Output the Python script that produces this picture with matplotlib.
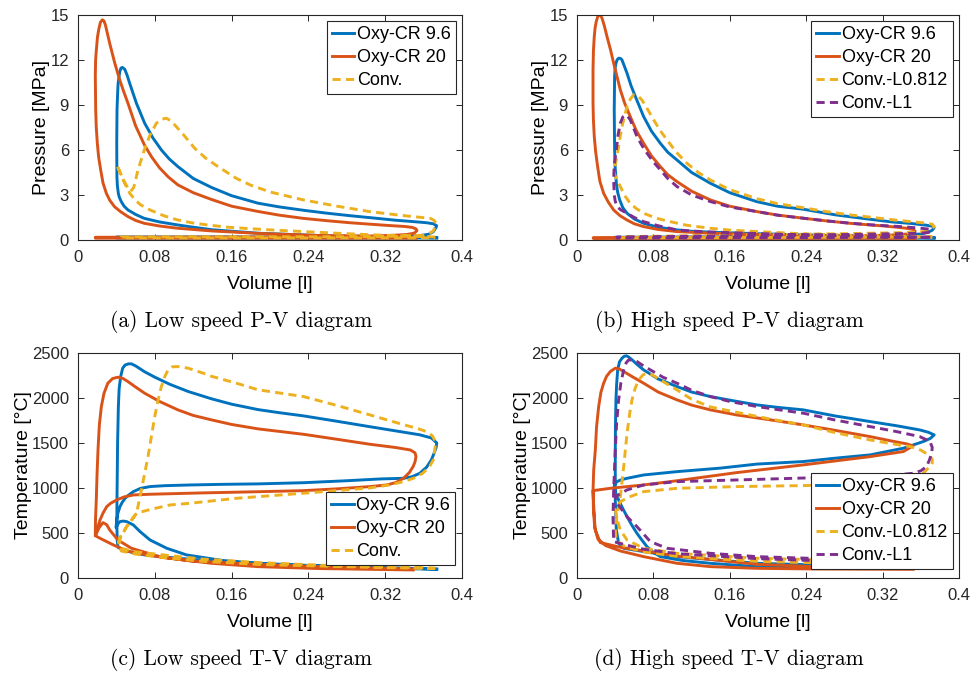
import matplotlib
matplotlib.use("Agg")
import matplotlib.pyplot as plt
from matplotlib.ticker import FixedLocator, FixedFormatter

# ---------------- axis ticks ----------------
vol_ticks = [0, 0.08, 0.16, 0.24, 0.32, 0.4]
vol_labels = ["0", "0.08", "0.16", "0.24", "0.32", "0.4"]
p_ticks = [0, 3, 6, 9, 12, 15]
p_labels = ["0", "3", "6", "9", "12", "15"]
t_ticks = [0, 500, 1000, 1500, 2000, 2500]
t_labels = ["0", "500", "1000", "1500", "2000", "2500"]

# ---------------- (a) low speed P-V ----------------
a_cr96_v = [0.3736, 0.30, 0.25, 0.1875, 0.14, 0.12, 0.104, 0.085, 0.069, 0.060, 0.052, 0.048, 0.045, 0.043,
            0.042, 0.041, 0.0405, 0.0403, 0.0406, 0.0412, 0.0417, 0.0434, 0.0447, 0.0462, 0.0486, 0.051,
            0.0538, 0.0608, 0.0694, 0.078, 0.0868, 0.095, 0.104, 0.12, 0.139, 0.16, 0.1875, 0.21, 0.2347,
            0.26, 0.283, 0.31, 0.33, 0.35, 0.363, 0.370, 0.3735, 0.3726, 0.370, 0.365, 0.355, 0.33, 0.20,
            0.040, 0.040, 0.20, 0.3736]
a_cr96_p = [0.15, 0.22, 0.30, 0.45, 0.68, 0.85, 1.00, 1.20, 1.44, 1.70, 2.00, 2.25, 2.56, 2.85,
            3.10, 3.60, 4.20, 6.44, 8.67, 9.70, 10.40, 11.20, 11.45, 11.50, 11.38, 11.00,
            10.44, 9.11, 7.78, 6.80, 6.00, 5.40, 4.89, 4.10, 3.50, 2.95, 2.45, 2.20, 1.98,
            1.78, 1.62, 1.45, 1.32, 1.22, 1.15, 1.08, 0.95, 0.80, 0.55, 0.38, 0.28, 0.22, 0.20,
            0.20, 0.13, 0.13, 0.13]

a_cr20_v = [0.352, 0.30, 0.25, 0.1875, 0.14, 0.104, 0.085, 0.069, 0.060, 0.052, 0.044, 0.038, 0.033, 0.0295,
            0.026, 0.0236, 0.0215, 0.0201, 0.019, 0.0184, 0.0180, 0.0183, 0.0191, 0.0202, 0.0215, 0.0233,
            0.0253, 0.027, 0.0285, 0.033, 0.0382, 0.0434, 0.0475, 0.052, 0.060, 0.0694, 0.077, 0.085, 0.094,
            0.104, 0.12, 0.139, 0.16, 0.1875, 0.21, 0.2347, 0.26, 0.283, 0.32, 0.34, 0.348, 0.352, 0.353,
            0.350, 0.342, 0.33, 0.31, 0.20, 0.018, 0.018, 0.20, 0.352]
a_cr20_p = [0.18, 0.24, 0.30, 0.44, 0.60, 0.78, 0.93, 1.11, 1.30, 1.56, 1.90, 2.22, 2.65, 3.11,
            3.80, 4.67, 5.50, 6.44, 7.50, 8.67, 10.90, 12.00, 12.67, 13.50, 14.00, 14.50,
            14.67, 14.60, 14.33, 13.10, 11.80, 10.67, 9.90, 9.11, 7.60, 6.30, 5.50, 4.80, 4.20,
            3.67, 3.15, 2.70, 2.25, 1.90, 1.65, 1.44, 1.28, 1.15, 0.98, 0.90, 0.84, 0.74, 0.62,
            0.45, 0.36, 0.32, 0.27, 0.20, 0.18, 0.12, 0.12, 0.12]

a_conv_v = [0.372, 0.34, 0.304, 0.27, 0.235, 0.21, 0.1875, 0.156, 0.135, 0.118, 0.103, 0.090, 0.075, 0.065,
            0.059, 0.054, 0.050, 0.045, 0.0403, 0.044, 0.048, 0.052, 0.055, 0.058, 0.0625, 0.069, 0.075,
            0.0816, 0.087, 0.092, 0.0965, 0.1007, 0.11, 0.1215, 0.133, 0.1458, 0.165, 0.18, 0.20, 0.2347,
            0.27, 0.304, 0.335, 0.355, 0.367, 0.371, 0.373, 0.372, 0.370, 0.366, 0.36, 0.33, 0.30, 0.045,
            0.045, 0.20, 0.372]
a_conv_p = [0.20, 0.27, 0.35, 0.45, 0.56, 0.64, 0.72, 0.85, 1.00, 1.15, 1.35, 1.60, 2.00, 2.35,
            2.70, 3.10, 3.60, 4.30, 5.00, 4.50, 3.90, 3.45, 3.25, 3.50, 4.67, 6.00, 7.00,
            7.78, 8.05, 8.11, 7.95, 7.67, 7.00, 6.11, 5.45, 4.89, 4.10, 3.65, 3.20, 2.67,
            2.25, 1.89, 1.65, 1.52, 1.44, 1.30, 1.10, 0.89, 0.60, 0.44, 0.32, 0.25, 0.22, 0.20,
            0.14, 0.14, 0.14]

# ---------------- (b) high speed P-V ----------------
b_cr96_v = [0.374, 0.33, 0.30, 0.25, 0.1885, 0.1396, 0.12, 0.1047, 0.085, 0.0698, 0.060, 0.0524, 0.048, 0.0447,
            0.0425, 0.0412, 0.040, 0.0394, 0.039, 0.0394, 0.040, 0.0408, 0.042, 0.0436, 0.0455, 0.0471, 0.0495,
            0.0524, 0.0565, 0.0611, 0.0698, 0.078, 0.0873, 0.095, 0.1047, 0.12, 0.1396, 0.16, 0.1885, 0.21,
            0.237, 0.27, 0.307, 0.33, 0.350, 0.365, 0.372, 0.374, 0.372, 0.367, 0.36, 0.34, 0.30, 0.20, 0.039,
            0.039, 0.20, 0.374]
b_cr96_p = [0.15, 0.19, 0.24, 0.32, 0.42, 0.52, 0.58, 0.67, 0.85, 1.11, 1.40, 1.78, 2.15, 2.67,
            3.20, 3.78, 4.80, 6.00, 8.67, 10.89, 11.50, 11.78, 12.00, 12.11, 12.10, 12.00, 11.60,
            11.11, 10.30, 9.56, 8.22, 7.25, 6.44, 5.85, 5.33, 4.50, 3.78, 3.15, 2.55, 2.25,
            2.05, 1.68, 1.38, 1.20, 1.10, 0.99, 0.92, 0.82, 0.65, 0.50, 0.40, 0.32, 0.26, 0.22, 0.18,
            0.12, 0.12, 0.12]

b_cr20_v = [0.354, 0.30, 0.24, 0.1885, 0.14, 0.1047, 0.085, 0.0698, 0.060, 0.0524, 0.045, 0.0384, 0.033, 0.0279,
            0.024, 0.0216, 0.0195, 0.0181, 0.0172, 0.0168, 0.0168, 0.0172, 0.0181, 0.019, 0.0202, 0.0218, 0.0234,
            0.0248, 0.0262, 0.0285, 0.0314, 0.035, 0.0384, 0.0454, 0.050, 0.0558, 0.062, 0.0698, 0.078, 0.0873,
            0.095, 0.1047, 0.12, 0.1396, 0.16, 0.1885, 0.21, 0.237, 0.26, 0.286, 0.307, 0.32, 0.335, 0.345,
            0.352, 0.354, 0.352, 0.346, 0.33, 0.30, 0.20, 0.017, 0.017, 0.20, 0.354]
b_cr20_p = [0.15, 0.20, 0.27, 0.36, 0.45, 0.56, 0.70, 0.89, 1.08, 1.33, 1.62, 2.00, 2.50, 3.11,
            3.90, 4.89, 5.90, 6.89, 8.00, 9.11, 11.33, 12.60, 13.56, 14.15, 14.56, 14.90, 15.00,
            14.95, 14.78, 14.30, 13.56, 12.70, 11.78, 10.00, 9.10, 8.22, 7.30, 6.44, 5.60, 4.89,
            4.35, 3.89, 3.25, 2.67, 2.25, 1.89, 1.66, 1.45, 1.28, 1.11, 1.00, 0.94, 0.85, 0.78,
            0.70, 0.60, 0.48, 0.40, 0.33, 0.28, 0.20, 0.15, 0.11, 0.11, 0.11]

b_l0812_v = [0.372, 0.33, 0.30, 0.24, 0.1885, 0.16, 0.1396, 0.115, 0.0977, 0.083, 0.0698, 0.062, 0.0558, 0.050,
             0.0454, 0.041, 0.039, 0.040, 0.0419, 0.0445, 0.0471, 0.0524, 0.056, 0.0593, 0.0635, 0.068, 0.074,
             0.0803, 0.087, 0.0942, 0.104, 0.1152, 0.127, 0.1396, 0.16, 0.1885, 0.21, 0.237, 0.26, 0.286,
             0.310, 0.330, 0.350, 0.365, 0.372, 0.374, 0.371, 0.366, 0.35, 0.28, 0.20, 0.12, 0.045, 0.045,
             0.20, 0.372]
b_l0812_p = [0.20, 0.26, 0.30, 0.40, 0.56, 0.66, 0.78, 0.98, 1.22, 1.45, 1.78, 2.10, 2.44, 2.95,
             3.56, 4.10, 4.44, 5.00, 5.56, 6.60, 7.56, 8.89, 9.40, 9.67, 9.62, 9.33, 8.70,
             8.00, 7.30, 6.67, 5.85, 5.11, 4.50, 4.00, 3.35, 2.75, 2.42, 2.15, 1.90, 1.67,
             1.50, 1.35, 1.22, 1.13, 1.05, 0.90, 0.70, 0.58, 0.50, 0.42, 0.35, 0.28, 0.22, 0.15,
             0.17, 0.20]

b_l1_v = [0.370, 0.30, 0.24, 0.1885, 0.1396, 0.12, 0.1047, 0.085, 0.0698, 0.060, 0.0524, 0.046, 0.0419, 0.040,
          0.039, 0.0384, 0.039, 0.0412, 0.043, 0.0454, 0.048, 0.0506, 0.053, 0.0558, 0.059, 0.0628, 0.068,
          0.0733, 0.080, 0.0873, 0.095, 0.1047, 0.12, 0.1396, 0.16, 0.1885, 0.21, 0.237, 0.26, 0.286, 0.31,
          0.342, 0.36, 0.369, 0.371, 0.368, 0.36, 0.30, 0.20, 0.12, 0.042, 0.042, 0.20, 0.370]
b_l1_p = [0.18, 0.25, 0.33, 0.43, 0.53, 0.60, 0.67, 0.95, 1.22, 1.50, 1.78, 2.00, 2.22, 2.60,
          3.00, 4.00, 5.00, 6.00, 7.00, 7.78, 8.20, 8.33, 8.25, 8.00, 7.50, 6.89, 6.30,
          5.78, 5.20, 4.67, 4.10, 3.56, 3.00, 2.56, 2.20, 1.89, 1.65, 1.45, 1.28, 1.12, 1.00,
          0.88, 0.78, 0.72, 0.60, 0.50, 0.45, 0.38, 0.30, 0.25, 0.20, 0.13, 0.16, 0.18]

# ---------------- (c) low speed T-V ----------------
c_cr96_v = [0.3736, 0.30, 0.25, 0.1875, 0.139, 0.104, 0.0694, 0.050, 0.0417, 0.0408, 0.0405, 0.0405, 0.0408,
            0.0412, 0.042, 0.0428, 0.0444, 0.0465, 0.049, 0.0525, 0.0556, 0.060, 0.0694, 0.08, 0.0958, 0.115,
            0.139, 0.16, 0.1875, 0.21, 0.235, 0.27, 0.304, 0.33, 0.356, 0.368, 0.3736, 0.373, 0.371, 0.368,
            0.363, 0.356, 0.348, 0.339, 0.315, 0.28, 0.2347, 0.1875, 0.15, 0.1167, 0.09, 0.075, 0.065, 0.0576,
            0.052, 0.049, 0.046, 0.0437, 0.0415, 0.0403, 0.0396, 0.0415, 0.0437, 0.047, 0.0507, 0.0576,
            0.0646, 0.075, 0.0924, 0.113, 0.15, 0.20, 0.30, 0.3736]
c_cr96_t = [100, 120, 135, 163, 190, 219, 256, 300, 340, 420, 560, 800, 1100,
            1500, 1900, 2100, 2237, 2330, 2365, 2378, 2378, 2355, 2290, 2230, 2150, 2070,
            1990, 1930, 1870, 1835, 1800, 1740, 1680, 1635, 1590, 1555, 1500, 1450, 1390, 1311,
            1230, 1163, 1125, 1107, 1100, 1080, 1058, 1045, 1040, 1033, 1025, 1015, 995, 959,
            915, 885, 840, 793, 720, 644, 560, 600, 626, 632, 626, 589,
            515, 422, 330, 256, 195, 150, 115, 96]

c_cr20_v = [0.349, 0.25, 0.1875, 0.1167, 0.075, 0.0507, 0.0368, 0.0229, 0.018, 0.0182, 0.019, 0.0198, 0.0208,
            0.0222, 0.0243, 0.027, 0.031, 0.036, 0.0417, 0.047, 0.052, 0.060, 0.0694, 0.085, 0.104, 0.12,
            0.139, 0.16, 0.1875, 0.2347, 0.27, 0.304, 0.33, 0.346, 0.351, 0.352, 0.351, 0.349, 0.345, 0.339,
            0.331, 0.3215, 0.304, 0.27, 0.2347, 0.1875, 0.1305, 0.075, 0.0576, 0.048, 0.0403, 0.034, 0.0299,
            0.026, 0.0229, 0.0208, 0.018, 0.022, 0.026, 0.030, 0.033, 0.0417, 0.0556, 0.0868, 0.139, 0.1875,
            0.25, 0.349]
c_cr20_t = [100, 125, 150, 190, 250, 300, 367, 441, 470, 650, 867, 1150, 1422,
            1700, 1904, 2050, 2163, 2215, 2230, 2215, 2181, 2120, 2052, 1960, 1867, 1805,
            1756, 1705, 1656, 1596, 1540, 1485, 1450, 1422, 1390, 1348, 1290, 1237, 1170, 1107,
            1060, 1033, 1015, 990, 970, 958, 945, 930, 922, 900, 867, 830, 793,
            720, 644, 570, 470, 560, 615, 590, 533, 420, 330, 230, 163, 126,
            105, 89]

c_conv_v = [0.372, 0.30, 0.1875, 0.13, 0.09, 0.06, 0.045, 0.042, 0.050, 0.061, 0.066, 0.0729, 0.0799, 0.0835,
            0.0868, 0.0905, 0.0938, 0.098, 0.104, 0.1146, 0.1305, 0.139, 0.165, 0.1875, 0.2347, 0.27, 0.304,
            0.335, 0.355, 0.363, 0.369, 0.372, 0.372, 0.371, 0.370, 0.366, 0.359, 0.35, 0.339, 0.325, 0.304,
            0.2347, 0.165, 0.1167, 0.0958, 0.075, 0.061, 0.050, 0.043, 0.045, 0.06, 0.09, 0.13, 0.19, 0.27,
            0.372]
c_conv_t = [105, 120, 150, 185, 225, 265, 300, 400, 560, 720, 978, 1348, 1793, 1980,
            2126, 2240, 2311, 2345, 2348, 2330, 2274, 2240, 2163, 2090, 2015, 1915, 1811,
            1715, 1655, 1626, 1580, 1520, 1459, 1380, 1311, 1235, 1163, 1110, 1070, 1035, 1000,
            941, 885, 830, 811, 760, 720, 560, 440, 330, 290, 255, 210, 170, 135,
            110]

# ---------------- (d) high speed T-V ----------------
d_cr96_v = [0.373, 0.30, 0.1885, 0.1047, 0.0698, 0.0489, 0.0436, 0.0412, 0.0401, 0.0401, 0.0403, 0.0408, 0.0415,
            0.0426, 0.0445, 0.0471, 0.0495, 0.0517, 0.054, 0.058, 0.063, 0.0698, 0.085, 0.1047, 0.12, 0.1396,
            0.16, 0.1885, 0.21, 0.237, 0.27, 0.307, 0.335, 0.359, 0.368, 0.374, 0.370, 0.3626, 0.3417, 0.307,
            0.27, 0.237, 0.1885, 0.15, 0.1047, 0.0698, 0.0524, 0.046, 0.0419, 0.0395, 0.039, 0.0405, 0.0436,
            0.048, 0.0524, 0.0575, 0.0628, 0.068, 0.0733, 0.08, 0.0873, 0.11, 0.1396, 0.1885, 0.30, 0.373]
d_cr96_t = [115, 130, 163, 237, 293, 330, 385, 533, 867, 1422, 1700, 1978, 2150,
            2311, 2400, 2441, 2462, 2467, 2455, 2420, 2370, 2311, 2210, 2126, 2065, 2015,
            1975, 1922, 1895, 1867, 1800, 1737, 1690, 1644, 1618, 1589, 1550, 1515, 1441, 1367,
            1330, 1293, 1265, 1220, 1181, 1144, 1107, 1090, 1070, 1040, 1015, 940, 867,
            770, 681, 585, 496, 420, 348, 285, 237, 195, 163, 126, 110, 107]

d_cr20_v = [0.352, 0.25, 0.1885, 0.1396, 0.1047, 0.0698, 0.0454, 0.030, 0.022, 0.0185, 0.0172, 0.0168, 0.0175,
            0.0192, 0.0205, 0.0227, 0.025, 0.0279, 0.031, 0.0349, 0.0401, 0.0445, 0.0489, 0.058, 0.0698, 0.085,
            0.1047, 0.12, 0.1396, 0.167, 0.20, 0.237, 0.27, 0.307, 0.33, 0.345, 0.352, 0.3417, 0.307, 0.237,
            0.167, 0.1047, 0.0698, 0.0349, 0.0168, 0.0175, 0.0185, 0.0192, 0.0244, 0.0454, 0.1047, 0.1885,
            0.25, 0.352]
d_cr20_t = [96, 100, 107, 126, 163, 237, 300, 360, 430, 560, 780, 970, 1200,
            1422, 1680, 1904, 2060, 2163, 2240, 2293, 2330, 2320, 2293, 2235, 2163, 2065,
            1978, 1920, 1867, 1811, 1760, 1700, 1640, 1570, 1520, 1490, 1467, 1404, 1348, 1256,
            1170, 1080, 1033, 996, 970, 800, 620, 533, 393, 341, 244, 152,
            125, 105]

d_l0812_v = [0.372, 0.30, 0.1885, 0.1047, 0.0698, 0.050, 0.041, 0.040, 0.042, 0.0454, 0.0489, 0.0524, 0.0555,
             0.0576, 0.061, 0.0646, 0.069, 0.0733, 0.079, 0.0873, 0.095, 0.1047, 0.12, 0.1396, 0.167, 0.20,
             0.237, 0.27, 0.307, 0.33, 0.349, 0.36, 0.368, 0.372, 0.372, 0.371, 0.3626, 0.3417, 0.307, 0.237,
             0.167, 0.1047, 0.0698, 0.0558, 0.0454, 0.0401, 0.042, 0.0454, 0.0524, 0.0698, 0.1047, 0.1885,
             0.30, 0.372]
d_l0812_t = [140, 155, 185, 240, 290, 350, 420, 560, 700, 904, 1237, 1607, 1850,
             1978, 2110, 2200, 2255, 2274, 2255, 2200, 2150, 2089, 1985, 1900, 1840, 1770,
             1700, 1615, 1533, 1490, 1459, 1420, 1367, 1320, 1280, 1256, 1163, 1089, 1052, 1026,
             1015, 996, 959, 904, 848, 756, 650, 533, 422, 330, 274, 219,
             190, 170]

d_l1_v = [0.370, 0.30, 0.1885, 0.1047, 0.0698, 0.050, 0.0384, 0.0377, 0.0384, 0.0401, 0.0415, 0.0436, 0.046,
          0.0489, 0.0515, 0.0541, 0.058, 0.0628, 0.069, 0.0768, 0.09, 0.1047, 0.12, 0.1396, 0.16, 0.1885,
          0.21, 0.237, 0.27, 0.307, 0.335, 0.359, 0.3696, 0.372, 0.3714, 0.369, 0.366, 0.36, 0.352, 0.33,
          0.307, 0.237, 0.1885, 0.1047, 0.0698, 0.0524, 0.0401, 0.0419, 0.0524, 0.0628, 0.0768, 0.0942,
          0.1396, 0.1885, 0.30, 0.370]
d_l1_t = [160, 175, 215, 270, 320, 370, 404, 681, 978, 1422, 1720, 1978, 2170,
          2311, 2390, 2422, 2420, 2404, 2360, 2311, 2230, 2163, 2085, 2015, 1960, 1904,
          1870, 1830, 1755, 1681, 1625, 1570, 1515, 1450, 1385, 1310, 1237, 1190, 1163, 1140,
          1126, 1110, 1095, 1070, 1033, 978, 904, 830, 681, 570, 404, 330,
          274, 237, 200, 180]

# ---------------- styling ----------------
BLUE, ORANGE, YELLOW, PURPLE = "#0072BD", "#D95319", "#EDB120", "#7E2F8E"
AX_COLOR = "#262626"
LW = 2.1
DASH = (0, (2.8, 1.8))
SANS = ["Liberation Sans", "DejaVu Sans"]

plt.rcParams["font.family"] = SANS

fig = plt.figure(figsize=(9.73, 6.76), dpi=100)
positions = {
    "a": [0.0802, 0.645, 0.3947, 0.333],
    "b": [0.593, 0.645, 0.3926, 0.333],
    "c": [0.0802, 0.145, 0.3947, 0.333],
    "d": [0.593, 0.145, 0.3926, 0.333],
}


def style_axes(ax, yticks, ylabels, ymax, ylabel):
    ax.set_xlim(0, 0.4)
    ax.set_ylim(0, ymax)
    ax.xaxis.set_major_locator(FixedLocator(vol_ticks))
    ax.xaxis.set_major_formatter(FixedFormatter(vol_labels))
    ax.yaxis.set_major_locator(FixedLocator(yticks))
    ax.yaxis.set_major_formatter(FixedFormatter(ylabels))
    ax.tick_params(direction="in", top=True, right=True, length=4.5, width=0.7,
                   colors=AX_COLOR, labelsize=12, pad=7)
    ax.tick_params(axis="y", pad=6.5)
    for s in ax.spines.values():
        s.set_color(AX_COLOR)
        s.set_linewidth(0.8)
    ax.set_xlabel("Volume [l]", fontsize=14, color="black", labelpad=8)
    ax.set_ylabel(ylabel, fontsize=14, color="black", labelpad=0.2)


def add_legend(ax, loc, anchor):
    leg = ax.legend(loc=loc, bbox_to_anchor=anchor, borderaxespad=0, fontsize=13,
                    frameon=True, fancybox=False, framealpha=1, edgecolor=AX_COLOR,
                    handlelength=1.25, handletextpad=0.15, borderpad=0.28, labelspacing=0.33)
    leg.get_frame().set_linewidth(0.8)


# (a)
ax = fig.add_axes(positions["a"])
ax.plot(a_cr96_v, a_cr96_p, color=BLUE, lw=LW, label="Oxy-CR 9.6")
ax.plot(a_cr20_v, a_cr20_p, color=ORANGE, lw=LW, label="Oxy-CR 20")
ax.plot(a_conv_v, a_conv_p, color=YELLOW, lw=LW, ls=DASH, label="Conv.")
style_axes(ax, p_ticks, p_labels, 15, "Pressure [MPa]")
add_legend(ax, "upper right", (0.984, 0.973))

# (b)
ax = fig.add_axes(positions["b"])
ax.plot(b_cr96_v, b_cr96_p, color=BLUE, lw=LW, label="Oxy-CR 9.6")
ax.plot(b_cr20_v, b_cr20_p, color=ORANGE, lw=LW, label="Oxy-CR 20")
ax.plot(b_l0812_v, b_l0812_p, color=YELLOW, lw=LW, ls=DASH, label="Conv.-L0.812")
ax.plot(b_l1_v, b_l1_p, color=PURPLE, lw=LW, ls=DASH, label="Conv.-L1")
style_axes(ax, p_ticks, p_labels, 15, "Pressure [MPa]")
add_legend(ax, "upper right", (0.984, 0.973))

# (c)
ax = fig.add_axes(positions["c"])
ax.plot(c_cr96_v, c_cr96_t, color=BLUE, lw=LW, label="Oxy-CR 9.6")
ax.plot(c_cr20_v, c_cr20_t, color=ORANGE, lw=LW, label="Oxy-CR 20")
ax.plot(c_conv_v, c_conv_t, color=YELLOW, lw=LW, ls=DASH, label="Conv.")
style_axes(ax, t_ticks, t_labels, 2500, "Temperature [°C]")
add_legend(ax, "lower right", (0.982, 0.058))

# (d)
ax = fig.add_axes(positions["d"])
ax.plot(d_cr96_v, d_cr96_t, color=BLUE, lw=LW, label="Oxy-CR 9.6")
ax.plot(d_cr20_v, d_cr20_t, color=ORANGE, lw=LW, label="Oxy-CR 20")
ax.plot(d_l0812_v, d_l0812_t, color=YELLOW, lw=LW, ls=DASH, label="Conv.-L0.812")
ax.plot(d_l1_v, d_l1_t, color=PURPLE, lw=LW, ls=DASH, label="Conv.-L1")
style_axes(ax, t_ticks, t_labels, 2500, "Temperature [°C]")
add_legend(ax, "lower right", (0.984, 0.04))

# sub-figure captions
captions = ["(a) Low speed P-V diagram", "(b) High speed P-V diagram",
            "(c) Low speed T-V diagram", "(d) High speed T-V diagram"]
caption_xy = [(0.2477, 0.525), (0.750, 0.525), (0.2477, 0.025), (0.749, 0.025)]
for text, (x, y) in zip(captions, caption_xy):
    fig.text(x, y, text, ha="center", va="center", fontsize=15.5,
             family=["cmr10", "DejaVu Serif"])

fig.savefig("out.png", dpi=100)
